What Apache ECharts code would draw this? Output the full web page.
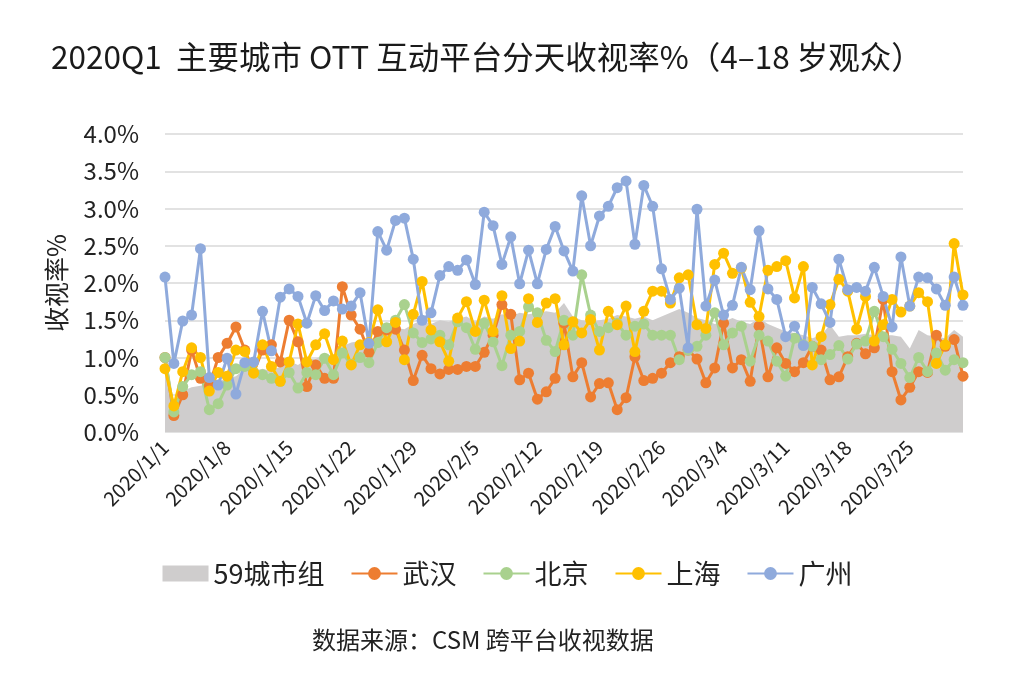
<!DOCTYPE html>
<html><head><meta charset="utf-8">
<script src="https://cdn.jsdelivr.net/npm/echarts@6/dist/echarts.min.js"></script>
<style>html,body{margin:0;padding:0;background:#fff;}#c{width:1015px;height:676px;}</style>
</head><body><div id="c"></div>
<script>
var categories = [
'2020/1/1','2020/1/2','2020/1/3','2020/1/4','2020/1/5','2020/1/6','2020/1/7','2020/1/8','2020/1/9','2020/1/10',
'2020/1/11','2020/1/12','2020/1/13','2020/1/14','2020/1/15','2020/1/16','2020/1/17','2020/1/18','2020/1/19','2020/1/20',
'2020/1/21','2020/1/22','2020/1/23','2020/1/24','2020/1/25','2020/1/26','2020/1/27','2020/1/28','2020/1/29','2020/1/30',
'2020/1/31','2020/2/1','2020/2/2','2020/2/3','2020/2/4','2020/2/5','2020/2/6','2020/2/7','2020/2/8','2020/2/9',
'2020/2/10','2020/2/11','2020/2/12','2020/2/13','2020/2/14','2020/2/15','2020/2/16','2020/2/17','2020/2/18','2020/2/19',
'2020/2/20','2020/2/21','2020/2/22','2020/2/23','2020/2/24','2020/2/25','2020/2/26','2020/2/27','2020/2/28','2020/2/29',
'2020/3/1','2020/3/2','2020/3/3','2020/3/4','2020/3/5','2020/3/6','2020/3/7','2020/3/8','2020/3/9','2020/3/10',
'2020/3/11','2020/3/12','2020/3/13','2020/3/14','2020/3/15','2020/3/16','2020/3/17','2020/3/18','2020/3/19','2020/3/20',
'2020/3/21','2020/3/22','2020/3/23','2020/3/24','2020/3/25','2020/3/26','2020/3/27','2020/3/28','2020/3/29','2020/3/30',
'2020/3/31'];

var city59 = [0.95,0.4,0.55,0.6,0.62,0.65,0.68,0.72,0.75,0.85,0.82,0.85,0.82,0.88,0.95,0.9,0.98,0.98,1.05,1.02,
1.15,1.2,1.22,1.15,1.3,1.33,1.4,1.38,1.45,1.5,1.45,1.5,1.48,1.52,1.55,1.48,1.55,1.52,1.58,1.55,
1.6,1.58,1.6,1.62,1.6,1.73,1.55,1.5,1.48,1.5,1.52,1.57,1.55,1.52,1.55,1.5,1.55,1.6,1.65,1.6,
1.53,1.5,1.45,1.48,1.53,1.48,1.45,1.53,1.45,1.4,1.35,1.33,1.3,1.26,1.3,1.44,1.28,1.3,1.3,1.32,
1.3,1.3,1.3,1.28,1.12,1.37,1.3,1.28,1.26,1.37,1.28];

var wuhan = [1.0,0.22,0.5,1.1,0.72,0.62,1.0,1.19,1.41,1.1,0.8,1.1,1.17,0.94,1.5,1.21,0.61,0.9,0.72,0.72,
1.95,1.57,1.38,1.07,1.35,1.37,1.38,1.1,0.69,1.03,0.85,0.78,0.84,0.84,0.88,0.88,1.07,1.3,1.71,1.58,
0.7,0.79,0.44,0.54,0.72,1.46,0.74,0.93,0.47,0.65,0.66,0.3,0.46,1.01,0.69,0.72,0.79,0.93,1.01,1.1,
0.98,0.66,0.86,1.46,0.86,0.97,0.68,1.42,0.74,1.13,0.92,0.81,0.93,1.15,1.1,0.7,0.74,1.01,1.19,1.05,
1.13,1.78,0.81,0.43,0.6,0.81,0.8,1.3,1.15,1.24,0.75];

var beijing = [1.0,0.27,0.61,0.77,0.81,0.3,0.38,0.63,0.85,0.88,0.8,0.77,0.72,0.68,0.8,0.59,0.8,0.77,0.99,0.77,
1.06,0.91,1.0,0.93,1.2,1.4,1.5,1.71,1.33,1.2,1.25,1.3,1.17,1.48,1.4,1.11,1.46,1.21,0.89,1.3,
1.35,1.68,1.6,1.23,1.08,1.5,1.3,2.11,1.57,1.35,1.4,1.46,1.3,1.42,1.45,1.3,1.3,1.3,0.97,1.1,
1.15,1.3,1.6,1.17,1.33,1.42,0.95,1.3,1.22,0.95,0.75,1.26,1.17,1.15,0.97,1.04,1.16,0.98,1.18,1.22,
1.62,1.28,1.11,0.92,0.73,1.0,0.81,1.06,0.83,0.97,0.93];

var shanghai = [0.85,0.35,0.81,1.13,1.0,0.55,0.8,0.75,1.1,1.08,0.79,1.17,0.88,0.68,0.94,1.45,0.94,1.17,1.32,0.97,
1.22,0.9,1.17,1.2,1.64,1.21,1.47,0.97,1.58,2.02,1.37,1.21,0.95,1.53,1.75,1.35,1.77,1.35,1.83,1.12,
1.22,1.79,1.47,1.73,1.79,1.17,1.48,1.33,1.51,1.1,1.62,1.44,1.69,1.08,1.62,1.89,1.89,1.73,2.07,2.11,
1.44,1.39,2.25,2.4,2.13,2.2,1.74,1.55,2.17,2.22,2.3,1.8,2.22,0.9,1.28,1.71,2.05,1.89,1.38,1.82,
1.22,1.44,1.78,1.61,1.69,1.87,1.75,0.92,1.17,2.53,1.84];

var guangzhou = [2.08,0.92,1.49,1.57,2.46,0.73,0.63,0.99,0.51,0.93,0.94,1.62,1.09,1.81,1.92,1.82,1.46,1.83,1.63,1.76,
1.65,1.69,1.87,1.19,2.69,2.44,2.84,2.87,2.32,1.5,1.6,2.1,2.22,2.17,2.31,1.98,2.95,2.77,2.25,2.62,
1.99,2.44,1.99,2.45,2.76,2.43,2.16,3.17,2.5,2.9,3.03,3.28,3.37,2.52,3.31,3.03,2.19,1.78,1.93,1.13,
2.99,1.69,2.04,1.57,1.7,2.21,1.91,2.7,1.92,1.78,1.28,1.42,1.16,1.94,1.72,1.47,2.32,1.91,1.94,1.89,
2.21,1.82,1.41,2.35,1.69,2.08,2.07,1.92,1.7,2.08,1.7];

var yTicks = [0, 0.5, 1.0, 1.5, 2.0, 2.5, 3.0, 3.5, 4.0];

var FONT = '"Noto Sans CJK SC","Noto Sans",sans-serif';
var chart = echarts.init(document.getElementById('c'), null, {renderer:'canvas'});

function lineSeries(name, data, color) {
  return {
    name: name, type: 'line', data: data,
    symbol: 'circle', symbolSize: 11, showSymbol: true, showAllSymbol: true,
    lineStyle: {color: color, width: 3},
    itemStyle: {color: color},
    emphasis: {disabled: true},
    animation: false
  };
}

chart.setOption({
  backgroundColor: '#fff',
  animation: false,
  textStyle: {fontFamily: FONT},
  title: {
    text: '2020Q1  主要城市 OTT 互动平台分天收视率%（4–18 岁观众）',
    left: 46, top: 36,
    textStyle: {fontSize: 31.5, fontWeight: 'normal', color: '#1a1a1a', fontFamily: FONT}
  },
  graphic: [{
    type: 'text', left: 312, top: 628,
    style: {text: '数据来源：CSM 跨平台收视数据', fontSize: 24, fill: '#222', fontFamily: FONT}
  }],
  legend: {
    bottom: 84, left: 'center',
    itemWidth: 46, itemHeight: 16, itemGap: 26,
    textStyle: {fontSize: 27, color: '#222', fontFamily: FONT},
    data: [{name:'59城市组', icon:'rect'}, '武汉', '北京', '上海', '广州']
  },
  grid: {left: 165, right: 52, top: 134, bottom: 244},
  xAxis: {
    type: 'category', data: categories, boundaryGap: false,
    axisLine: {show: false}, axisTick: {show: false},
    axisLabel: {interval: 6, rotate: 45, fontSize: 20, color: '#222', margin: 12, fontFamily: FONT}
  },
  yAxis: {
    type: 'value', min: yTicks[0], max: yTicks[yTicks.length-1], interval: 0.5,
    name: '收视率%', nameLocation: 'middle', nameGap: 96, nameRotate: 90,
    nameTextStyle: {fontSize: 25, color: '#222', fontFamily: FONT},
    axisLine: {show: false}, axisTick: {show: false},
    axisLabel: {fontSize: 24, color: '#222', margin: 26, fontFamily: FONT,
      formatter: function(v){ return v.toFixed(1) + '%'; }},
    splitLine: {lineStyle: {color: '#d9d9d9', width: 1.5}}
  },
  series: [
    {
      name: '59城市组', type: 'line', data: city59,
      symbol: 'none', lineStyle: {width: 0, color: '#cfcdcd'},
      itemStyle: {color: '#cfcdcd'},
      areaStyle: {color: '#cfcdcd', opacity: 1},
      emphasis: {disabled: true}, animation: false
    },
    lineSeries('武汉', wuhan, '#ed7d31'),
    lineSeries('北京', beijing, '#a9d18e'),
    lineSeries('上海', shanghai, '#ffc000'),
    lineSeries('广州', guangzhou, '#8faadc')
  ]
});
</script></body></html>
